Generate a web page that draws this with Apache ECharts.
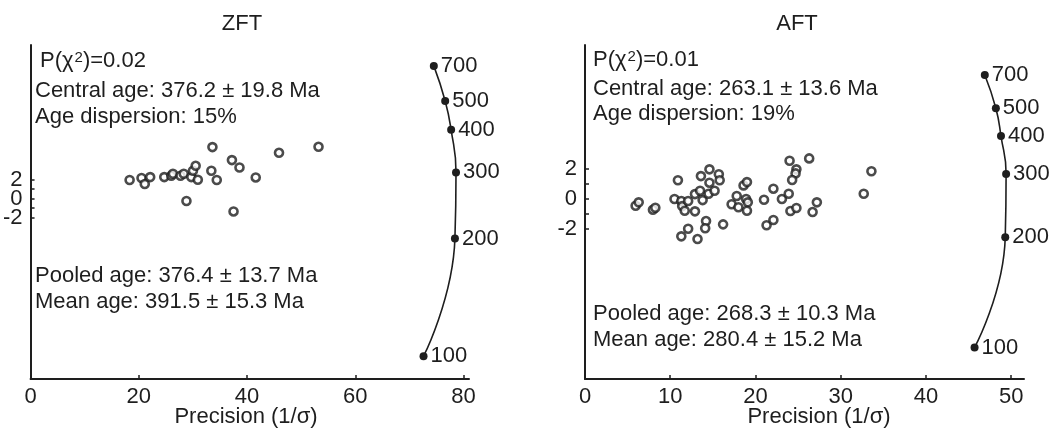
<!DOCTYPE html>
<html>
<head>
<meta charset="utf-8">
<script src="https://cdn.jsdelivr.net/npm/echarts@6/dist/echarts.min.js"></script>
<style>
  html, body { margin: 0; padding: 0; background: #fff; }
  #main { width: 1061px; height: 437px; }
</style>
</head>
<body>
<div id="main"></div>
<script>
// radial plots ZFT / AFT

// ZFT grains: precision (1/sigma) and standardised estimate
var zftPrec = [18.3, 20.5, 21.1, 22.1, 24.7, 26.0, 26.3, 27.7, 28.3, 29.7, 30.0, 30.5,
               30.9, 28.8, 33.6, 33.4, 34.4, 37.2, 38.6, 37.5, 41.6, 45.9, 53.2];
var zftStd  = [1.97, 2.18, 1.55, 2.28, 2.28, 2.42, 2.63, 2.42, 2.63, 2.28, 2.95, 3.47,
               2.0, -0.24, 5.44, 2.95, 1.97, 4.07, 3.29, -1.34, 2.24, 4.84, 5.47];

// AFT grains
var aftPrec = [5.94, 6.30, 7.97, 8.25, 10.9, 10.5, 11.3, 11.4, 11.7, 12.1, 11.3, 12.1,
               13.2, 12.9, 12.9, 13.6, 13.5, 13.8, 14.6, 14.6, 14.5, 15.2, 15.7, 15.8,
               14.2, 14.1, 16.2, 17.2, 17.8, 18.0, 18.6, 19.0, 18.9, 19.1, 19.0, 21.0,
               22.1, 21.3, 22.1, 23.1, 23.9, 24.0, 24.8, 24.7, 24.3, 24.1, 24.8, 26.3,
               26.7, 27.2, 32.7, 33.6];
var aftStd  = [-0.45, -0.22, -0.71, -0.58, 1.25, 0.0, -0.13, -0.47, -0.78, -0.13, -2.49, -1.98,
               -2.67, -0.82, 0.33, 1.53, 0.55, -0.07, 1.98, 1.09, 0.35, 0.55, 1.65, 1.25,
               -1.47, -1.95, -1.69, -0.35, 0.2, -0.55, 0.91, 1.13, 0.0, -0.22, -0.78, -0.05,
               0.69, -1.75, -1.4, 0.0, 0.35, 2.55, 1.98, 1.71, 1.27, -0.8, -0.6, 2.71,
               -0.87, -0.22, 0.35, 1.85];

// age scale on the arc (Ma) and where each tick sits
var arcAges = [100, 200, 300, 400, 500, 700];
var zftArcX = [72.6, 78.4, 78.6, 77.7, 76.6, 74.5];
var zftArcY = [-16.6, -4.2, 2.77, 7.26, 10.3, 14.0];
var aftArcX = [45.7, 49.3, 49.4, 48.8, 48.2, 46.9];
var aftArcY = [-9.9, -2.55, 1.67, 4.2, 6.05, 8.27];

var zftXTicks = [0, 20, 40, 60, 80];
var aftXTicks = [0, 10, 20, 30, 40, 50];
var yLabels = [-2, 0, 2];
var yTicks = [-2, -1, 0, 1, 2];

var zftText = ['Central age: 376.2 \u00b1 19.8 Ma', 'Age dispersion: 15%',
               'Pooled age: 376.4 \u00b1 13.7 Ma', 'Mean age: 391.5 \u00b1 15.3 Ma'];
var aftText = ['Central age: 263.1 \u00b1 13.6 Ma', 'Age dispersion: 19%',
               'Pooled age: 268.3 \u00b1 10.3 Ma', 'Mean age: 280.4 \u00b1 15.2 Ma'];

function pairs(a, b) {
    var out = [];
    for (var i = 0; i < a.length; i++) out.push([a[i], b[i]]);
    return out;
}

var FONT = '"Liberation Sans", Arial, Helvetica, sans-serif';
var INK = '#1e1e1e';
var FS = 22;

function xAxisOf(idx, max, ticks) {
    return {
        type: 'value', gridIndex: idx, min: 0, max: max,
        axisLine: { onZero: false, lineStyle: { color: INK, width: 2 } },
        axisTick: { inside: true, length: 4, customValues: ticks, lineStyle: { color: INK, width: 1.5 } },
        axisLabel: { customValues: ticks, hideOverlap: false, color: INK, fontSize: FS, fontFamily: FONT, margin: 7 },
        splitLine: { show: false }
    };
}
// y axis: ticks every unit, only -2/0/2 labelled
function yAxisOf(idx, min, max) {
    return {
        type: 'value', gridIndex: idx, min: min, max: max, interval: 1,
        axisLine: { show: true, onZero: false, lineStyle: { color: INK, width: 2 } },
        axisTick: { show: true, inside: true, length: 4, customValues: yTicks, lineStyle: { color: INK, width: 1.5 } },
        axisLabel: {
            hideOverlap: false, showMinLabel: false, showMaxLabel: false,
            color: INK, fontSize: FS, fontFamily: FONT, margin: 8, padding: [5, 0, 0, 0],
            formatter: function (v) { return yLabels.indexOf(v) >= 0 ? String(v) : ''; }
        },
        splitLine: { show: false }
    };
}
function grainSeries(idx, data) {
    return {
        type: 'scatter', xAxisIndex: idx, yAxisIndex: idx, data: data,
        symbol: 'circle', symbolSize: 8,
        itemStyle: { color: '#fff', borderColor: INK, borderWidth: 2.6 },
        z: 3
    };
}
function arcSeries(idx, data) {
    return {
        type: 'line', xAxisIndex: idx, yAxisIndex: idx, data: data,
        smooth: 0.5, symbol: 'circle', symbolSize: 8, showAllSymbol: true,
        lineStyle: { color: INK, width: 1.6 },
        itemStyle: { color: INK },
        label: {
            show: true, position: 'right', distance: 3,
            color: INK, fontSize: FS, fontFamily: FONT,
            formatter: function (p) { return arcAges[p.dataIndex]; }
        },
        z: 4
    };
}
function textEl(x, y, str, align) {
    return {
        type: 'text', x: x, y: y,
        style: { text: str, fill: INK, font: FS + 'px ' + FONT, textAlign: align || 'left', textVerticalAlign: 'middle' }
    };
}
function chiEl(x, y, val) {
    return {
        type: 'text', x: x, y: y,
        style: {
            text: '{a|P(\u03c7}{s|2}{a|)=' + val + '}',
            textVerticalAlign: 'middle',
            rich: {
                a: { fontSize: FS, fontFamily: FONT, fill: INK, color: INK },
                s: { fontSize: 15, fontFamily: FONT, fill: INK, color: INK, verticalAlign: 'top', padding: [0, 0, 0, 1] }
            }
        }
    };
}

var dom = document.getElementById('main');
var myChart = echarts.init(dom, null, { renderer: 'canvas' });

var option = {
    backgroundColor: '#fff',
    animation: false,
    grid: [
        { left: 30, top: 45, width: 439, height: 334 },
        { left: 585, top: 45, width: 439, height: 334 }
    ],
    xAxis: [xAxisOf(0, 81, zftXTicks), xAxisOf(1, 51.5, aftXTicks)],
    yAxis: [yAxisOf(0, -19, 16.2), yAxisOf(1, -12, 10.27)],
    series: [
        grainSeries(0, pairs(zftPrec, zftStd)),
        arcSeries(0, pairs(zftArcX, zftArcY)),
        grainSeries(1, pairs(aftPrec, aftStd)),
        arcSeries(1, pairs(aftArcX, aftArcY))
    ],
    graphic: [
        textEl(242, 24, 'ZFT', 'center'),
        textEl(797, 24, 'AFT', 'center'),
        chiEl(40, 61, '0.02'),
        textEl(35, 91, zftText[0]),
        textEl(35, 117, zftText[1]),
        textEl(35, 276, zftText[2]),
        textEl(35, 302, zftText[3]),
        chiEl(593, 60, '0.01'),
        textEl(593, 89, aftText[0]),
        textEl(593, 114, aftText[1]),
        textEl(593, 314, aftText[2]),
        textEl(593, 340, aftText[3]),
        textEl(246, 417, 'Precision (1/\u03c3)', 'center'),
        textEl(819, 417, 'Precision (1/\u03c3)', 'center')
    ]
};

if (option && typeof option === "object") {
    myChart.setOption(option, true);
}
</script>
</body>
</html>
